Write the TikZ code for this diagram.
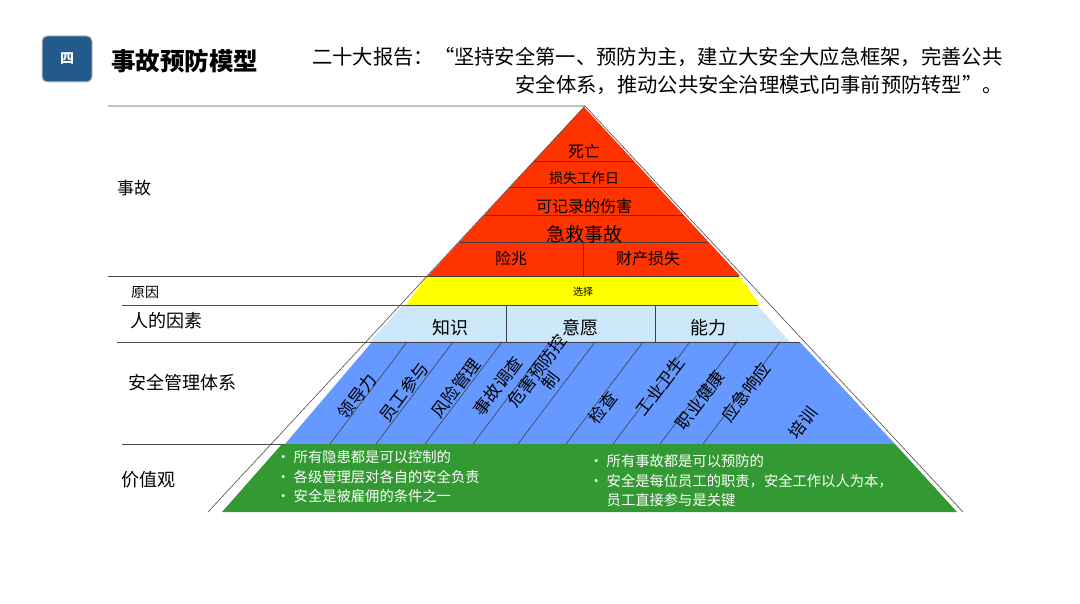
\documentclass[tikz,border=0pt]{standalone}
\usepackage{fontspec}
\setmainfont{Noto Sans CJK SC}
\definecolor{cRed}{HTML}{FF3300}
\definecolor{cYel}{HTML}{FFFF00}
\definecolor{cLb}{HTML}{CCE8FA}
\definecolor{cBl}{HTML}{6699FF}
\definecolor{cGr}{HTML}{339933}
\definecolor{cBadge}{HTML}{235A8C}
\begin{document}
\begin{tikzpicture}[x=1pt,y=-1pt,
  lbl/.style={anchor=center,inner sep=0pt,font=\fontsize{#1}{#1}\selectfont},
  div/.style={draw=black!75,line width=0.6pt},
  rule/.style={draw=black!70,line width=0.6pt},
  rot/.style={anchor=center,inner sep=0pt,rotate=53,font=\fontsize{17}{17}\selectfont,align=center},
  wt/.style={anchor=west,inner sep=0pt,text=white,font=\fontsize{14.3}{19.5}\selectfont,align=left}]
\useasboundingbox (0,0) rectangle (1080,604);
% header
\node[fill=cBadge,rounded corners=5pt,minimum width=50pt,minimum height=46pt,draw=black!25,line width=1pt] (badge) at (67,59) {};
\node[lbl=14,text=white] (badget) at (badge) {\bfseries 四};
\node[anchor=west,inner sep=0pt,font=\fontsize{24.5}{24.5}\selectfont\bfseries] (title) at (111,61) {事故预防模型};
\node[anchor=west,inner sep=0pt,font=\fontsize{20.3}{21}\selectfont] (q1) at (312,57) {二十大报告：“坚持安全第一、预防为主，建立大安全大应急框架，完善公共};
\node[anchor=east,inner sep=0pt,font=\fontsize{20.3}{21}\selectfont] (q2) at (1003,85) {安全体系，推动公共安全治理模式向事前预防转型”。};
% layers
\fill[cRed] (584,107) -- (740,276) -- (428,276) -- cycle;
\fill[cYel] (426,277) -- (740,277) -- (760,305) -- (406,305) -- cycle;
\fill[cLb] (403,305) -- (757,305) -- (790,342) -- (370,342) -- cycle;
\fill[cBl] (372,342) -- (800,342) -- (895,444) -- (285,444) -- cycle;
\fill[cGr] (282,444) -- (895,444) -- (957,512) -- (222,512) -- cycle;
% red dividers
\foreach \y in {161,187,215,242,276} {
  \pgfmathsetmacro\dx{(\y-107)*0.92}
  \draw[div] (584-\dx,\y) -- (584+\dx,\y);}
\draw[div] (583,242) -- (583,276);
\draw[div] (406,305) -- (758,305);
\draw[div] (506,305) -- (506,342);
\draw[div] (655,305) -- (655,342);
\draw[div] (372,342) -- (800,342);
\foreach \t in {407,453,502,550,595,643,690,737,780} \draw[black!80,line width=0.5pt] (\t,342) -- (\t-77,444);
% outline
\draw[rule] (108,106) -- (585,106) -- (963,512);
\draw[rule] (585,106) -- (208,512);
\draw[rule] (108,276) -- (430,276);
\draw[rule] (122,305) -- (410,305);
\draw[rule] (117,342) -- (372,342);
\draw[rule] (122,444) -- (285,444);
% left labels
\node[lbl=17] (l1) at (134,188) {事故};
\node[lbl=14] (l2) at (145,292) {原因};
\node[lbl=18] (l3) at (166,321) {人的因素};
\node[lbl=18] (l4) at (182,383) {安全管理体系};
\node[lbl=18] (l5) at (148,480) {价值观};
% red texts
\node[lbl=16] (r1) at (584,151) {死亡};
\node[lbl=14] (r2) at (584,178) {损失工作日};
\node[lbl=16] (r3) at (584,206) {可记录的伤害};
\node[lbl=19] (r4) at (584,234) {急救事故};
\node[lbl=16] (r5) at (511,258) {险兆};
\node[lbl=16] (r6) at (648,258) {财产损失};
\node[lbl=10] (y1) at (583,292) {选择};
\node[lbl=18] (b1) at (450,328) {知识};
\node[lbl=18] (b2) at (580,328) {意愿};
\node[lbl=18] (b3) at (708,328) {能力};
% blue rotated
\node[rot] (m1) at (357,396) {领导力};
\node[rot] (m2) at (404,392) {员工参与};
\node[rot] (m3) at (456,388) {风险管理};
\node[rot] (m4) at (498,386) {事故调查};
\node[rot] (m5) at (544,376) {危害预防控\\制};
\node[rot] (m6) at (603,408) {检查};
\node[rot] (m7) at (660,386) {工业卫生};
\node[rot] (m8) at (700,400) {职业健康};
\node[rot] (m9) at (746,392) {应急响应};
\node[rot] (m10) at (803,423) {培训};
% green texts
\node[wt] (g1) at (276,477) {• 所有隐患都是可以控制的\\• 各级管理层对各自的安全负责\\• 安全是被雇佣的条件之一};
\node[wt] (g2) at (589,481) {• 所有事故都是可以预防的\\• 安全是每位员工的职责，安全工作以人为本，\\\phantom{• }员工直接参与是关键};
\end{tikzpicture}
\end{document}
